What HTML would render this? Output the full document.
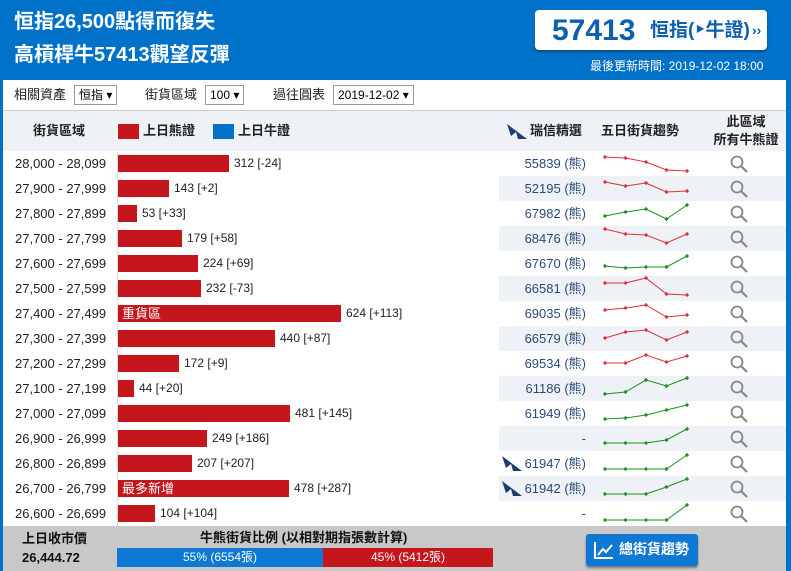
<!DOCTYPE html><html><head><meta charset="utf-8"><style>
*{margin:0;padding:0;box-sizing:border-box}
body{width:791px;height:571px;overflow:hidden;background:#0071c8;font-family:"Liberation Sans","Noto Sans CJK TC",sans-serif;position:relative}
.a{position:absolute;white-space:nowrap;line-height:1.2}
.w{background:#fff}
.sel{position:absolute;border:1px solid #999;background:#fff;font-size:12px;height:20px;line-height:18px;padding:0 4px;top:85px}
.r{position:absolute;left:3px;width:783px;height:25px;background:#fff}
.r.g::after{content:"";position:absolute;left:496px;right:0;top:0;bottom:0;background:#eef1f5}
.rng{position:absolute;left:12px;top:5px;font-size:13px;line-height:15px;color:#222;z-index:1}
.bar{position:absolute;left:115px;top:4px;height:17px;background:#c4161c;z-index:1;color:#fff;font-size:13px;line-height:17px;padding-left:4px;white-space:nowrap}
.val{position:absolute;top:5px;font-size:12px;line-height:15px;color:#222;z-index:1;white-space:nowrap}
.code{position:absolute;right:200px;top:5px;font-size:13px;line-height:15px;color:#2a4a7a;z-index:1;white-space:nowrap}
.mag{position:absolute;left:727px;top:4px;z-index:1}
svg.sp{position:absolute;left:596px;top:0;z-index:1}
</style></head><body>
<div class="a" style="left:14px;top:10px;color:#fff;font-size:20px;font-weight:bold">恒指26,500點得而復失</div>
<div class="a" style="left:14px;top:43px;color:#fff;font-size:20px;font-weight:bold">高槓桿牛57413觀望反彈</div>
<div class="a" style="left:535px;top:10px;width:232px;height:40px;background:#fff;border-radius:4px;box-shadow:0 2px 2px rgba(0,0,0,.3)"></div>
<div class="a" style="left:552px;top:13px;color:#0d5fb0;font-size:30px;font-weight:bold">57413</div>
<div class="a" style="left:650px;top:20px;color:#0d5fb0;font-size:19px;font-weight:bold">恒指(‣牛證)</div>
<div class="a" style="left:752px;top:22px;color:#0d5fb0;font-size:14px;font-weight:bold">››</div>
<div class="a" style="left:590px;top:59px;color:#fff;font-size:12px">最後更新時間: 2019-12-02 18:00</div>
<div class="a w" style="left:3px;top:80px;width:783px;height:30px"></div>
<div class="a" style="left:14px;top:87px;font-size:13px;color:#222">相關資產</div>
<div class="sel" style="left:74px">恒指 ▾</div>
<div class="a" style="left:145px;top:87px;font-size:13px;color:#222">街貨區域</div>
<div class="sel" style="left:205px">100 ▾</div>
<div class="a" style="left:273px;top:87px;font-size:13px;color:#222">過往圓表</div>
<div class="sel" style="left:333px">2019-12-02 ▾</div>
<div class="a" style="left:3px;top:110px;width:783px;height:41px;background:#eef1f5;border-top:1px solid #ccc"></div>
<div class="a" style="left:33px;top:123px;font-size:13px;font-weight:bold;color:#222">街貨區域</div>
<div class="a" style="left:118px;top:124px;width:21px;height:15px;background:#c4161c"></div>
<div class="a" style="left:143px;top:123px;font-size:13px;font-weight:bold;color:#222">上日熊證</div>
<div class="a" style="left:213px;top:124px;width:21px;height:15px;background:#0071c8"></div>
<div class="a" style="left:238px;top:123px;font-size:13px;font-weight:bold;color:#222">上日牛證</div>
<svg class="a" style="left:507px;top:124px" width="20" height="15"><path d="M0 0 L20 15 L11 15 L9 8 L4 12 Z" fill="#1c3d6e"/></svg>
<div class="a" style="left:530px;top:123px;font-size:13px;font-weight:bold;color:#222">瑞信精選</div>
<div class="a" style="left:601px;top:123px;font-size:13px;font-weight:bold;color:#222">五日街貨趨勢</div>
<div class="a" style="left:708px;top:113px;width:76px;font-size:13px;font-weight:bold;color:#222;text-align:center;line-height:18px">此區域<br>所有牛熊證</div>
<div id="rows"></div>
<div class="a" style="left:117px;top:151px;width:1px;height:375px;background:#ddd;z-index:2"></div>
<div class="a" style="left:3px;top:526px;width:783px;height:45px;background:#c8c8c8"></div>
<div class="a" style="left:22px;top:531px;font-size:13px;font-weight:bold;color:#111">上日收市價</div>
<div class="a" style="left:22px;top:550px;font-size:13px;font-weight:bold;color:#111">26,444.72</div>
<div class="a" style="left:200px;top:530px;font-size:13px;font-weight:bold;color:#111">牛熊街貨比例 (以相對期指張數計算)</div>
<div class="a" style="left:117px;top:548px;width:206px;height:19px;background:#0f78d4;color:#fff;font-size:12px;text-align:center;line-height:19px">55% (6554張)</div>
<div class="a" style="left:323px;top:548px;width:170px;height:19px;background:#c4161c;color:#fff;font-size:12px;text-align:center;line-height:19px">45% (5412張)</div>
<div class="a" style="left:586px;top:534px;width:112px;height:32px;background:#0f78d4;border-radius:3px;box-shadow:0 2px 2px rgba(0,0,0,.4)"></div>
<svg class="a" style="left:594px;top:541px" width="20" height="18"><path d="M1 1 V17 H19" stroke="#fff" fill="none" stroke-width="2"/><path d="M4 14 L9 8 L12 11 L18 4" stroke="#fff" fill="none" stroke-width="2"/></svg>
<div class="a" style="left:619px;top:541px;font-size:14px;font-weight:bold;color:#fff">總街貨趨勢</div>
<script>
var d=[["28,000 - 28,099",312,"312 [-24]","55839 (熊)","r",[6,7,11,19,20]],
["27,900 - 27,999",143,"143 [+2]","52195 (熊)","r",[6,10,7,16,15]],
["27,800 - 27,899",53,"53 [+33]","67982 (熊)","g",[15,11,8,18,4]],
["27,700 - 27,799",179,"179 [+58]","68476 (熊)","r",[3,8,9,17,8]],
["27,600 - 27,699",224,"224 [+69]","67670 (熊)","g",[15,17,16,16,5]],
["27,500 - 27,599",232,"232 [-73]","66581 (熊)","r",[7,7,2,18,19]],
["27,400 - 27,499",624,"624 [+113]","69035 (熊)","r",[9,7,4,16,14],"重貨區"],
["27,300 - 27,399",440,"440 [+87]","66579 (熊)","r",[12,6,4,14,6]],
["27,200 - 27,299",172,"172 [+9]","69534 (熊)","r",[12,12,4,11,5]],
["27,100 - 27,199",44,"44 [+20]","61186 (熊)","g",[18,16,4,10,2]],
["27,000 - 27,099",481,"481 [+145]","61949 (熊)","g",[18,17,14,9,4]],
["26,900 - 26,999",249,"249 [+186]","-","g",[17,17,17,14,3]],
["26,800 - 26,899",207,"207 [+207]","61947 (熊)","g",[18,18,18,18,4],null,1],
["26,700 - 26,799",478,"478 [+287]","61942 (熊)","g",[18,18,18,11,3],"最多新增",1],
["26,600 - 26,699",104,"104 [+104]","-","g",[19,19,19,19,4]]];
var h="";
d.forEach(function(e,i){var w=Math.round(e[1]*0.357);var c=e[4]=="r"?"#d9343b":"#1f8f1f";
var pts=e[5].map(function(y,j){return (6+j*20.5)+","+y}).join(" ");
var dots=e[5].map(function(y,j){return '<rect x="'+(4.5+j*20.5)+'" y="'+(y-1.5)+'" width="3" height="3" fill="'+c+'" transform="rotate(45 '+(6+j*20.5)+' '+y+')"/>'}).join("");
h+='<div class="r'+(i%2?' g':'')+'" style="top:'+(151+i*25)+'px"><div class="rng">'+e[0]+'</div><div class="bar" style="width:'+w+'px">'+(e[6]||"")+'</div><div class="val" style="left:'+(115+w+5)+'px">'+e[2]+'</div>'+
(e[7]?'<svg style="position:absolute;left:499px;top:5px;z-index:1" width="20" height="15"><path d="M0 0 L20 15 L11 15 L9 8 L4 12 Z" fill="#1c3d6e"/></svg>':'')+
'<div class="code">'+e[3]+'</div><svg class="sp" width="95" height="25"><polyline points="'+pts+'" fill="none" stroke="'+c+'" stroke-width="1"/>'+dots+'</svg>'+
'<svg class="mag" width="18" height="18"><circle cx="7" cy="7" r="5.5" fill="none" stroke="#888" stroke-width="1.8"/><line x1="11" y1="11" x2="17" y2="17" stroke="#888" stroke-width="2.2"/></svg></div>';});
document.getElementById("rows").innerHTML=h;
</script>
</body></html>
